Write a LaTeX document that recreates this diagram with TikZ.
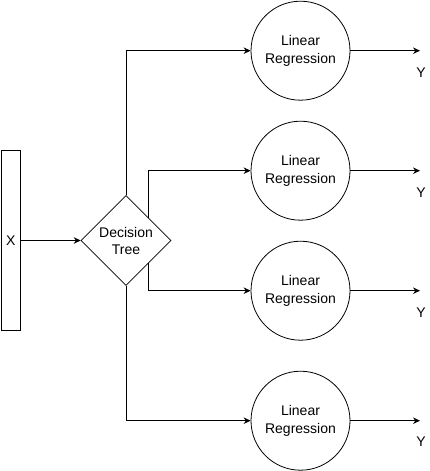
\documentclass[tikz,border=0pt]{standalone}
\usepackage{fontspec}
\setmainfont{Liberation Sans}
\usetikzlibrary{shapes.geometric,arrows.meta}
\begin{document}
\begin{tikzpicture}[x=1bp,y=-1bp,
  every node/.style={font=\fontsize{14bp}{17bp}\selectfont},
  lr/.style={circle,draw,line width=0.8bp,minimum size=99bp,inner sep=0pt,align=center,font=\fontsize{14bp}{18bp}\selectfont},
  conn/.style={line width=0.9bp,-{Stealth[length=7bp,width=6.5bp]}}]
\useasboundingbox (0,0) rectangle (429,471);
\node[draw,line width=0.9bp,minimum width=19.5bp,minimum height=180bp,inner sep=0pt] (x) at (10.75,240.5) {X};
\node[diamond,draw,line width=0.6bp,minimum size=90bp,inner sep=0pt] (dt) at (126,240.5) {};
\node[align=center] (dtl) at (dt.center) {Decision\\Tree};
\node[lr] (c1) at (300.5,50.7) {Linear\\Regression};
\node[lr] (c2) at (300.5,170.7) {Linear\\Regression};
\node[lr] (c3) at (300.5,290.7) {Linear\\Regression};
\node[lr] (c4) at (300.5,420.7) {Linear\\Regression};
\coordinate (o1) at (420,50.7);
\coordinate (o2) at (420,170.7);
\coordinate (o3) at (420,290.7);
\coordinate (o4) at (420,420.7);
\node (y1) at (421,73) {Y};
\node (y2) at (421,193) {Y};
\node (y3) at (421,313) {Y};
\node (y4) at (421,442) {Y};
\draw[conn] (x.east) -- (dt.west);
\draw[conn] (dt.north) |- (c1.west);
\draw[conn] (dt.north east) |- (c2.west);
\draw[conn] (dt.south east) |- (c3.west);
\draw[conn] (dt.south) |- (c4.west);
\draw[conn] (c1.east) -- (o1);
\draw[conn] (c2.east) -- (o2);
\draw[conn] (c3.east) -- (o3);
\draw[conn] (c4.east) -- (o4);
\end{tikzpicture}
\end{document}
